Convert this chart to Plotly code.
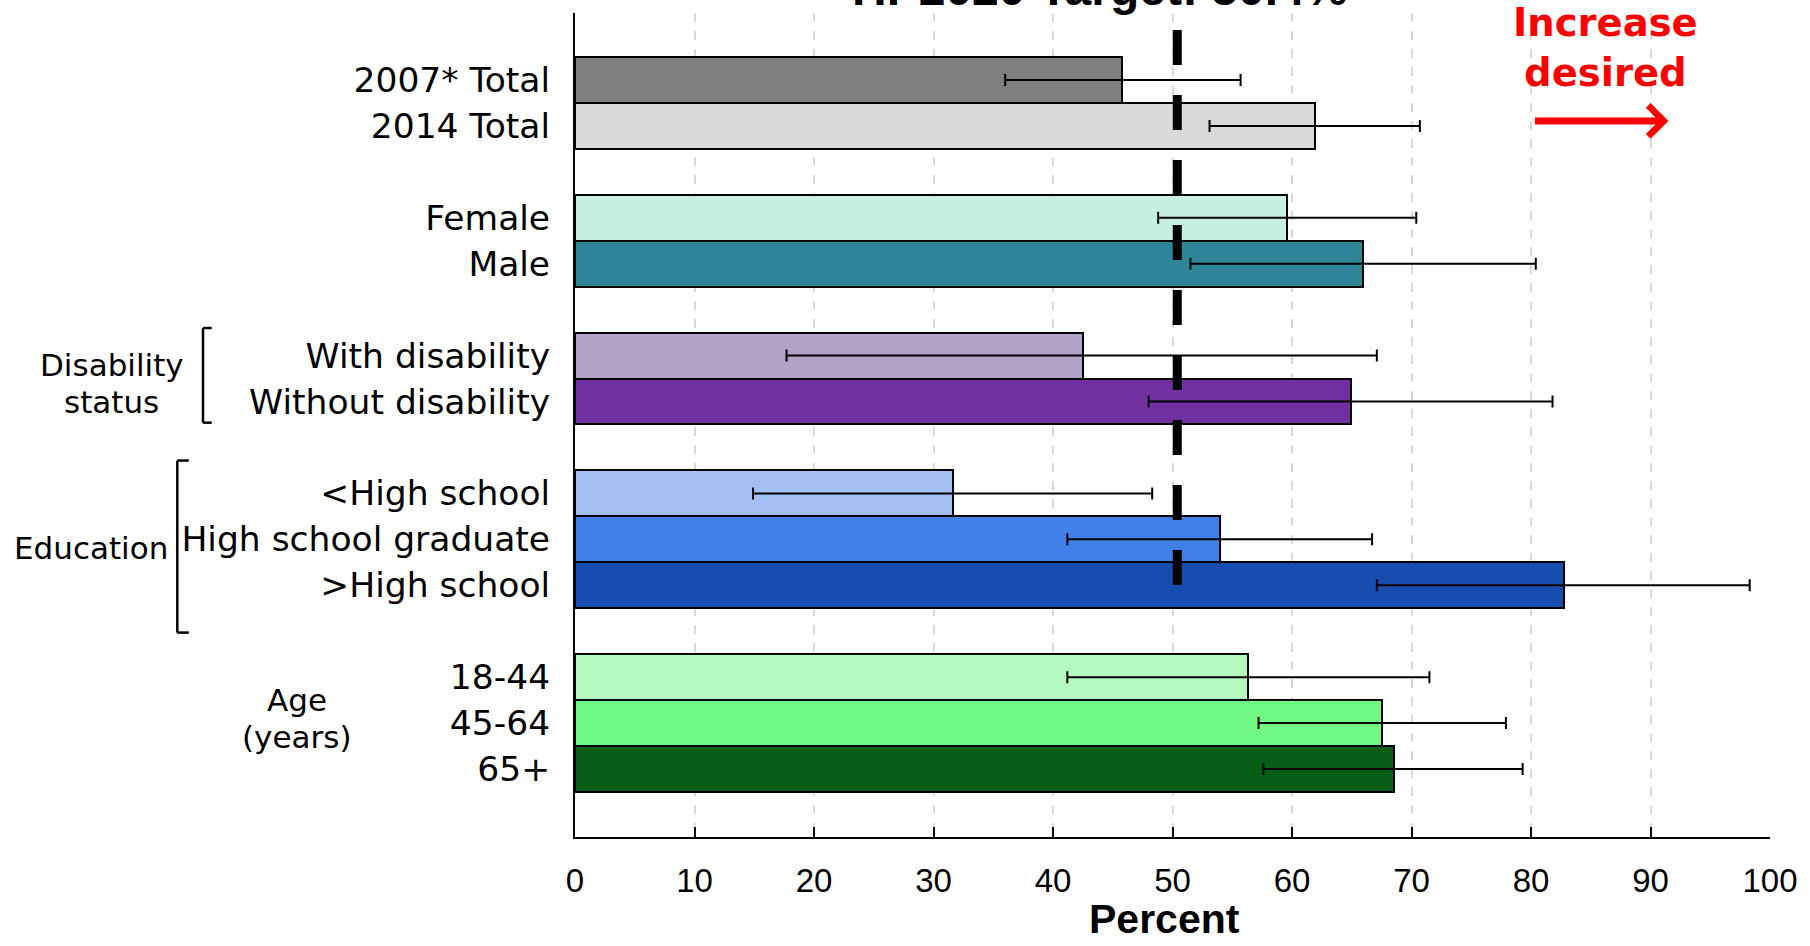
import plotly.graph_objects as go

# ---- data ----
categories = ["2007* Total", "2014 Total", "Female", "Male",
              "With disability", "Without disability",
              "<High school", "High school graduate", ">High school",
              "18-44", "45-64", "65+"]
percent = [45.8, 61.9, 59.6, 65.9, 42.5, 64.9, 31.6, 54.0, 82.8, 56.3, 67.5, 68.5]
ci_low = [36.0, 53.1, 48.8, 51.5, 17.7, 48.0, 14.9, 41.2, 67.1, 41.2, 57.2, 57.6]
ci_high = [55.7, 70.7, 70.4, 80.4, 67.1, 81.8, 48.3, 66.7, 98.3, 71.5, 77.9, 79.3]
bar_colors = ["#808080", "#d9d9d9", "#c6f0e1", "#2e8598",
              "#b2a2c7", "#7030a0", "#a3bff4", "#4180e9", "#174db1",
              "#b5fbc0", "#6ff983", "#075e16"]
target = 50.4
x_ticks = [0, 10, 20, 30, 40, 50, 60, 70, 80, 90, 100]

# category order with blank spacer rows between groups
category_order = ["2007* Total", "2014 Total", " ",
                  "Female", "Male", "  ",
                  "With disability", "Without disability", "   ",
                  "<High school", "High school graduate", ">High school", "    ",
                  "18-44", "45-64", "65+"]

err_plus = [h - p for h, p in zip(ci_high, percent)]
err_minus = [p - l for l, p in zip(ci_low, percent)]

fig = go.Figure()
fig.add_trace(go.Bar(
    y=categories, x=percent, orientation="h", width=1.0,
    marker=dict(color=bar_colors, line=dict(color="black", width=2)),
    error_x=dict(type="data", symmetric=False, array=err_plus, arrayminus=err_minus,
                 color="black", thickness=2, width=6),
    showlegend=False, hoverinfo="x+y",
))

lab_font = dict(family="DejaVu Sans, Verdana, sans-serif", size=34.5, color="black")
grp_font = dict(family="DejaVu Sans, Verdana, sans-serif", size=31, color="black")

fig.update_layout(
    width=1810, height=946,
    margin=dict(l=575, r=36, t=13, b=109),
    paper_bgcolor="white", plot_bgcolor="white",
    bargap=0,
    xaxis=dict(range=[0, 100], tickvals=x_ticks, showgrid=True, gridcolor="#d9d9d9",
               griddash="dash", gridwidth=1.5, zeroline=False,
               showline=True, linecolor="black", linewidth=2,
               ticks="inside", ticklen=10, tickwidth=2, tickcolor="black",
               ticklabelstandoff=13,
               tickfont=dict(family="Liberation Sans, Arial, sans-serif", size=33, color="black")),
    yaxis=dict(type="category", categoryorder="array", categoryarray=category_order,
               tickvals=categories, ticktext=categories,
               range=[16.48, -1.458], showgrid=False, zeroline=False,
               showline=True, linecolor="black", linewidth=2,
               ticks="", ticklabelstandoff=16, tickfont=lab_font),
)

# target line
fig.add_shape(type="line", xref="x", yref="y", x0=target, x1=target, y0=-1.09, y1=10.99,
              line=dict(color="black", width=9, dash="35px,30px"), layer="above")

# brackets for group labels
def bracket(x_line, x_serif, y_top, y_bot):
    for (xa, ya, xb, yb) in [(x_line, y_top, x_line, y_bot),
                             (x_line, y_top, x_serif, y_top),
                             (x_line, y_bot, x_serif, y_bot)]:
        fig.add_shape(type="line", xref="paper", yref="y", x0=xa, y0=ya, x1=xb, y1=yb,
                      line=dict(color="black", width=2.5))

bracket(-0.3113, -0.3040, 5.40, 7.46)
bracket(-0.3328, -0.3232, 8.285, 12.03)

for txt, xp, yi in [("Disability", -0.3878, 6.20), ("status", -0.3878, 7.01),
                    ("Education", -0.4053, 10.19),
                    ("Age", -0.2327, 13.50), ("(years)", -0.2327, 14.30)]:
    fig.add_annotation(xref="paper", yref="y", x=xp, y=yi, text=txt,
                       showarrow=False, font=grp_font, xanchor="center", yanchor="middle")

# title (partly cut at top, as in the reference)
fig.add_annotation(xref="paper", yref="paper", x=0.439, y=0.995,
                   text="<b>HP2020 Target: 50.4%</b>", showarrow=False,
                   xanchor="center", yanchor="bottom",
                   font=dict(family="Liberation Sans, Arial, sans-serif", size=48, color="black"))

# axis title
fig.add_annotation(xref="paper", yref="paper", x=0.493, y=-0.099, text="<b>Percent</b>",
                   showarrow=False, xanchor="center", yanchor="middle",
                   font=dict(family="Liberation Sans, Arial, sans-serif", size=41, color="black"))

# increase desired
fig.add_annotation(xref="x", yref="paper", x=86.25, y=0.958,
                   text="<b>Increase<br>desired</b>", showarrow=False,
                   xanchor="center", yanchor="middle",
                   font=dict(family="DejaVu Sans, Verdana, sans-serif", size=38.5, color="#ff0000"))
fig.add_annotation(xref="x", yref="paper", x=91.5, y=0.869, ax=80.2, ay=0,
                   axref="x", ayref="pixel", text="", showarrow=True,
                   arrowhead=4, arrowsize=0.85, arrowwidth=7, arrowcolor="#ff0000")

fig.write_html("out.html", config={"displayModeBar": False},
               post_script="document.body.style.margin='0';")
